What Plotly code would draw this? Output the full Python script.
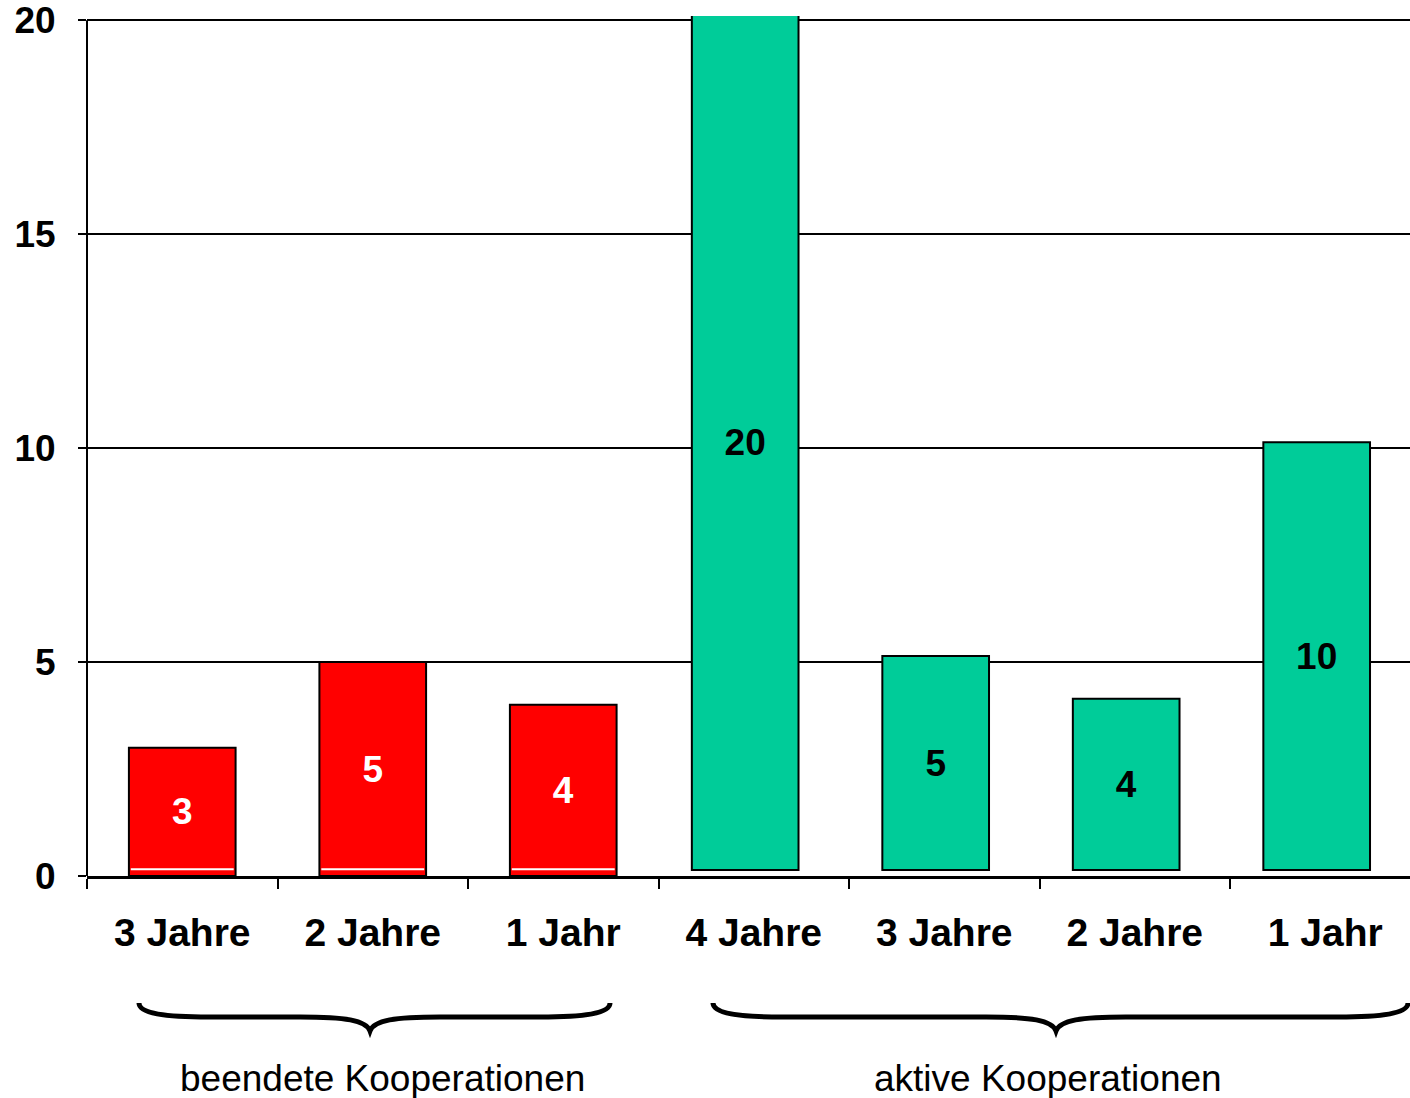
import plotly.graph_objects as go

# ---- data ----
categories = ["3 Jahre", "2 Jahre", "1 Jahr", "4 Jahre", "3 Jahre", "2 Jahre", "1 Jahr"]
ended_values = [3, 5, 4]          # beendete Kooperationen
active_values = [20, 5, 4, 10]    # aktive Kooperationen
group_labels = ["beendete Kooperationen", "aktive Kooperationen"]
y_ticks = [0, 5, 10, 15, 20]

RED = "#FF0000"
GREEN = "#00CC99"
FONT = "Liberation Sans, Arial, sans-serif"

n_ended = len(ended_values)
x_ended = list(range(n_ended))
x_active = list(range(n_ended, n_ended + len(active_values)))

BAR_W = 0.56
fig = go.Figure()

fig.add_trace(go.Bar(
    x=x_ended, y=ended_values, width=BAR_W,
    marker=dict(color=RED, line=dict(color="black", width=2)),
    text=[str(v) for v in ended_values], textposition="inside",
    insidetextanchor="middle", textangle=0,
    textfont=dict(family=FONT, size=37, color="white", weight="bold"),
    showlegend=False,
))
fig.add_trace(go.Bar(
    x=x_active, y=active_values, base=[0.14] * len(active_values),
    width=BAR_W, offset=-BAR_W / 2 - 0.045,
    marker=dict(color=GREEN, line=dict(color="black", width=2)),
    text=[str(v) for v in active_values], textposition="inside",
    insidetextanchor="middle", textangle=0,
    textfont=dict(family=FONT, size=37, color="black", weight="bold"),
    showlegend=False,
))

shapes = []
# thin white line near the bottom of the red bars
for xi in x_ended:
    shapes.append(dict(type="line", xref="x", yref="y",
                       x0=xi - BAR_W / 2 + 0.01, x1=xi + BAR_W / 2 - 0.01,
                       y0=0.16, y1=0.16, line=dict(color="white", width=2), layer="above"))
# y-axis line from 0 to 20
shapes.append(dict(type="line", xref="paper", yref="y", x0=0, x1=0, y0=0, y1=20,
                   line=dict(color="black", width=2), layer="above"))

# braces
PLOT_BOTTOM = 876
PLOT_H = 860.0
def py(p):
    return (PLOT_BOTTOM - p) / PLOT_H
def px2x(p):
    return (p - 87) / 190.5 - 0.5

def brace(x0p, xcp, x1p):
    yt, ym, yb = py(1003), py(1017), py(1031)
    X = px2x
    d = (f"M {X(x0p)},{yt} C {X(x0p)},{py(1013)} {X(x0p+25)},{ym} {X(x0p+70)},{ym} "
         f"L {X(xcp-70)},{ym} C {X(xcp-25)},{ym} {X(xcp-4)},{py(1020)} {X(xcp)},{yb} "
         f"C {X(xcp+4)},{py(1020)} {X(xcp+25)},{ym} {X(xcp+70)},{ym} "
         f"L {X(x1p-70)},{ym} C {X(x1p-25)},{ym} {X(x1p)},{py(1013)} {X(x1p)},{yt}")
    return dict(type="path", xref="x", yref="paper", path=d,
                line=dict(color="black", width=5))

shapes.append(brace(139, 370, 610))
shapes.append(brace(713, 1056, 1408))

annotations = [
    dict(x=px2x(382), y=py(1078), xref="x", yref="paper", text=group_labels[0],
         showarrow=False, font=dict(family=FONT, size=37, color="black"),
         xanchor="center", yanchor="middle"),
    dict(x=px2x(1048), y=py(1078), xref="x", yref="paper", text=group_labels[1],
         showarrow=False, font=dict(family=FONT, size=37, color="black"),
         xanchor="center", yanchor="middle"),
]

fig.update_layout(
    width=1410, height=1098,
    margin=dict(l=87, r=0, t=16, b=222),
    paper_bgcolor="white", plot_bgcolor="white",
    barmode="overlay",
    shapes=shapes, annotations=annotations,
    font=dict(family=FONT, color="black"),
)
fig.update_xaxes(
    range=[-0.5, -0.5 + 1323 / 190.5],
    tickvals=list(range(len(categories))), ticktext=categories,
    ticks="outside", ticklen=0,
    tickfont=dict(family=FONT, size=39, color="black", weight="bold"),
    ticklabelstandoff=20,
    minor=dict(tickvals=[i - 0.5 for i in range(len(categories) + 1)],
               ticks="outside", ticklen=10, tickwidth=2, tickcolor="black"),
    showline=True, linecolor="black", linewidth=3,
    showgrid=False, zeroline=False,
)
fig.update_yaxes(
    range=[0, 20.1], tickvals=y_ticks,
    ticks="outside", ticklen=8, tickwidth=2, tickcolor="black",
    tickfont=dict(family=FONT, size=37, color="black", weight="bold"),
    ticklabelstandoff=15, ticklabeloverflow="allow",
    showgrid=True, gridcolor="black", gridwidth=1.5,
    showline=False, zeroline=False,
)

fig.write_html("out.html")
